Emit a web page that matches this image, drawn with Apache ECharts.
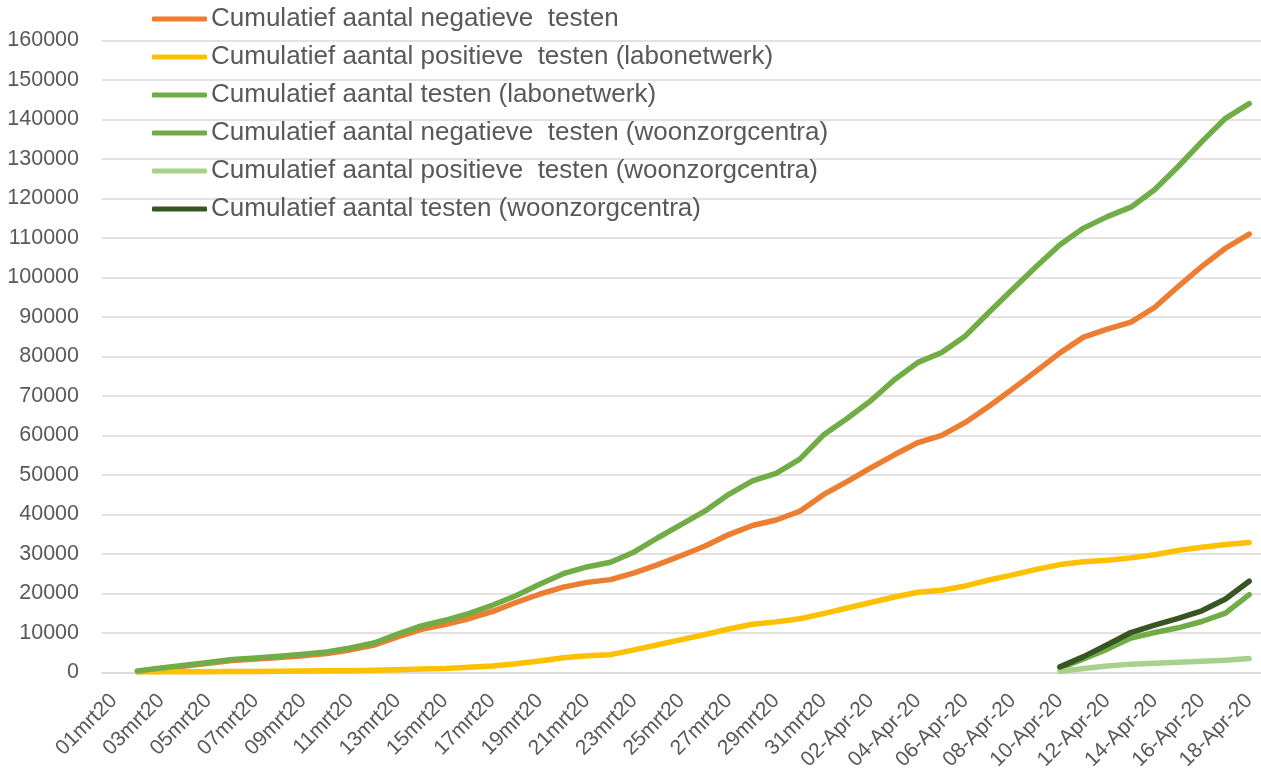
<!DOCTYPE html>
<html>
<head>
<meta charset="utf-8">
<script src="https://cdn.jsdelivr.net/npm/echarts@6/dist/echarts.min.js"></script>
<style>
  html, body { margin: 0; padding: 0; background: #fff; }
  #chart { width: 1261px; height: 773px; }
</style>
</head>
<body>
<div id="chart"></div>
<script>
const days = [
  '01mrt20', '02mrt20', '03mrt20', '04mrt20', '05mrt20', '06mrt20', '07mrt20', '08mrt20', '09mrt20', '10mrt20',
  '11mrt20', '12mrt20', '13mrt20', '14mrt20', '15mrt20', '16mrt20', '17mrt20', '18mrt20', '19mrt20', '20mrt20',
  '21mrt20', '22mrt20', '23mrt20', '24mrt20', '25mrt20', '26mrt20', '27mrt20', '28mrt20', '29mrt20', '30mrt20',
  '31mrt20', '01-Apr-20', '02-Apr-20', '03-Apr-20', '04-Apr-20', '05-Apr-20', '06-Apr-20', '07-Apr-20', '08-Apr-20',
  '09-Apr-20', '10-Apr-20', '11-Apr-20', '12-Apr-20', '13-Apr-20', '14-Apr-20', '15-Apr-20', '16-Apr-20',
  '17-Apr-20', '18-Apr-20'
];

// labonetwerk
const negatiefLab = [
  null, 250, 1000, 1650, 2300, 3000, 3400, 3800, 4250, 4800,
  5700, 6900, 9000, 10900, 12100, 13600, 15400, 17700, 19800, 21600,
  22800, 23500, 25200, 27300, 29600, 32000, 34900, 37200, 38600, 40800,
  45000, 48300, 51800, 55100, 58200, 60000, 63300, 67400, 71800,
  76300, 80900, 84900, 86900, 88700, 92400, 97700, 102800, 107400, 111000
];
const positiefLab = [
  null, 100, 150, 200, 200, 250, 250, 300, 350, 400,
  450, 550, 700, 850, 1000, 1300, 1650, 2200, 2900, 3700,
  4200, 4500, 5700, 7000, 8300, 9600, 11000, 12200, 12800, 13600,
  14900, 16300, 17700, 19100, 20300, 20800, 21900, 23400, 24700,
  26100, 27300, 28000, 28400, 29000, 29800, 30900, 31700, 32400, 32900
];
const totaalLab = [
  null, 350, 1100, 1800, 2500, 3250, 3650, 4100, 4600, 5200,
  6200, 7450, 9700, 11800, 13200, 14900, 17000, 19400, 22300, 25000,
  26700, 27900, 30500, 34100, 37500, 40900, 45100, 48500, 50400, 54000,
  60100, 64300, 68800, 74100, 78500, 81000, 85200, 91200, 97000,
  102800, 108300, 112500, 115400, 117800, 122200, 128100, 134400, 140300, 144000
];

// woonzorgcentra, from 10-Apr-20
const negatiefWzc = [1100, 3400, 5900, 8700, 10100, 11300, 12900, 15000, 19700];
const positiefWzc = [250, 1000, 1650, 2100, 2350, 2550, 2800, 3100, 3500];
const totaalWzc = [1400, 4000, 7000, 10100, 12000, 13700, 15600, 18600, 23100];

const wzcStart = days.indexOf('10-Apr-20');
const pad = (arr) => days.map((d, i) => (i < wzcStart ? null : arr[i - wzcStart]));

const seriesDefs = [
  { name: 'Cumulatief aantal negatieve  testen', data: negatiefLab, color: '#ED7D31' },
  { name: 'Cumulatief aantal positieve  testen (labonetwerk)', data: positiefLab, color: '#FFC000' },
  { name: 'Cumulatief aantal testen (labonetwerk)', data: totaalLab, color: '#70AD47' },
  { name: 'Cumulatief aantal negatieve  testen (woonzorgcentra)', data: pad(negatiefWzc), color: '#70AD47' },
  { name: 'Cumulatief aantal positieve  testen (woonzorgcentra)', data: pad(positiefWzc), color: '#A9D18E' },
  { name: 'Cumulatief aantal testen (woonzorgcentra)', data: pad(totaalWzc), color: '#375623' }
];

const chart = echarts.init(document.getElementById('chart'));
const font = "'Liberation Sans', Arial, sans-serif";

const option = {
  animation: false,
  textStyle: { fontFamily: font },
  grid: { left: 102, right: 0, top: 40.5, bottom: 99.5 },
  legend: {
    orient: 'vertical',
    left: 147,
    top: -1,
    itemWidth: 55,
    itemHeight: 5,
    itemGap: 8,
    icon: 'roundRect',
    textStyle: { fontSize: 26, color: '#595959', fontFamily: font, lineHeight: 30, padding: [0, 0, 0, -1] },
    data: seriesDefs.map((s) => s.name)
  },
  xAxis: {
    type: 'category',
    boundaryGap: true,
    data: days,
    axisLine: { show: true, lineStyle: { color: '#D9D9D9', width: 1.5 } },
    axisTick: { show: false },
    axisLabel: {
      interval: 1,
      rotate: 45,
      fontSize: 21,
      color: '#595959',
      fontFamily: font,
      margin: 25
    }
  },
  yAxis: {
    type: 'value',
    min: 0,
    max: 160000,
    interval: 10000,
    axisLine: { show: false },
    axisTick: { show: false },
    axisLabel: {
      fontSize: 21.5,
      color: '#595959',
      fontFamily: font,
      margin: 23,
      formatter: (v) => String(v)
    },
    splitLine: { lineStyle: { color: '#D9D9D9', width: 1.5 } }
  },
  series: seriesDefs.map((s) => ({
    name: s.name,
    type: 'line',
    data: s.data,
    symbol: 'none',
    color: s.color,
    lineStyle: { width: 5.5, color: s.color, cap: 'round', join: 'round' }
  }))
};

chart.setOption(option);
</script>
</body>
</html>
